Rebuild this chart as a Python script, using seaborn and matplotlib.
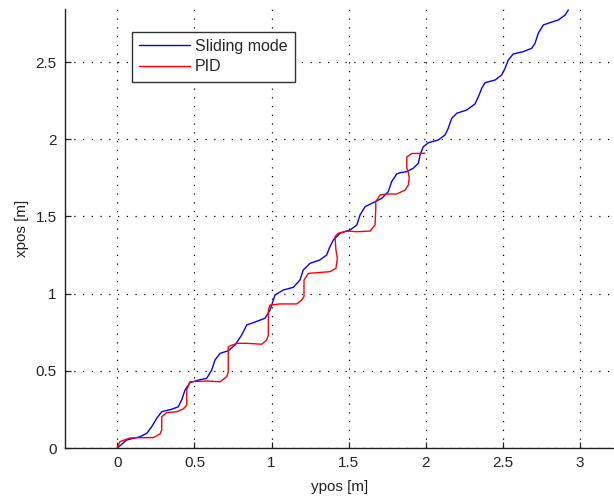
import numpy as np
import pandas as pd
import matplotlib
matplotlib.use("Agg")
import matplotlib.pyplot as plt
import seaborn as sns

# Sliding mode trajectory (ypos, xpos)
sm_ypos = [0.000, 0.061, 0.147, 0.191, 0.223, 0.255, 0.288, 0.353, 0.395, 0.417,
           0.439, 0.471, 0.525, 0.579, 0.612, 0.633, 0.666, 0.719, 0.763, 0.806,
           0.839, 0.881, 0.957, 0.990, 1.022, 1.076, 1.141, 1.184, 1.205, 1.249,
           1.313, 1.357, 1.378, 1.400, 1.444, 1.508, 1.552, 1.573, 1.606, 1.670,
           1.714, 1.756, 1.778, 1.811, 1.832, 1.876, 1.918, 1.951, 1.962, 1.983,
           2.016, 2.080, 2.124, 2.145, 2.167, 2.200, 2.264, 2.318, 2.340, 2.362,
           2.383, 2.448, 2.491, 2.513, 2.534, 2.566, 2.631, 2.686, 2.707, 2.728,
           2.761, 2.804, 2.858, 2.902, 2.923]
sm_xpos = [0.000, 0.052, 0.073, 0.095, 0.138, 0.192, 0.235, 0.251, 0.267, 0.311,
           0.376, 0.423, 0.440, 0.451, 0.505, 0.570, 0.613, 0.630, 0.667, 0.732,
           0.797, 0.812, 0.840, 0.894, 0.991, 1.023, 1.041, 1.088, 1.153, 1.196,
           1.218, 1.250, 1.304, 1.347, 1.391, 1.412, 1.444, 1.509, 1.563, 1.595,
           1.617, 1.660, 1.725, 1.775, 1.783, 1.790, 1.812, 1.844, 1.898, 1.951,
           1.977, 1.995, 2.027, 2.071, 2.135, 2.168, 2.189, 2.228, 2.275, 2.330,
           2.366, 2.383, 2.416, 2.459, 2.513, 2.552, 2.567, 2.589, 2.621, 2.686,
           2.740, 2.755, 2.772, 2.804, 2.837]

# PID trajectory (ypos, xpos)
pid_ypos = [0.000, 0.017, 0.082, 0.169, 0.233, 0.277, 0.288, 0.288, 0.320, 0.385,
            0.428, 0.450, 0.450, 0.471, 0.579, 0.666, 0.709, 0.719, 0.719, 0.774,
            0.839, 0.936, 0.968, 0.979, 0.979, 0.990, 1.054, 1.163, 1.195, 1.210,
            1.210, 1.238, 1.378, 1.417, 1.426, 1.417, 1.411, 1.432, 1.487, 1.552,
            1.638, 1.670, 1.675, 1.675, 1.703, 1.746, 1.811, 1.865, 1.886, 1.892,
            1.887, 1.876, 1.876, 1.908, 1.994]
pid_xpos = [0.000, 0.041, 0.065, 0.067, 0.067, 0.091, 0.117, 0.203, 0.229, 0.235,
            0.253, 0.278, 0.376, 0.429, 0.434, 0.429, 0.462, 0.492, 0.656, 0.678,
            0.678, 0.672, 0.699, 0.732, 0.894, 0.926, 0.933, 0.933, 0.959, 0.980,
            1.088, 1.131, 1.142, 1.164, 1.229, 1.282, 1.369, 1.391, 1.405, 1.401,
            1.405, 1.444, 1.541, 1.595, 1.639, 1.645, 1.645, 1.671, 1.703, 1.749,
            1.781, 1.813, 1.885, 1.907, 1.909]

series_names = ["Sliding mode", "PID"]
x_ticks = [0, 0.5, 1, 1.5, 2, 2.5, 3]
x_tick_labels = ["0", "0.5", "1", "1.5", "2", "2.5", "3"]
y_ticks = [0, 0.5, 1, 1.5, 2, 2.5]
y_tick_labels = ["0", "0.5", "1", "1.5", "2", "2.5"]

df = pd.concat([
    pd.DataFrame({"ypos": sm_ypos, "xpos": sm_xpos, "method": series_names[0]}),
    pd.DataFrame({"ypos": pid_ypos, "xpos": pid_xpos, "method": series_names[1]}),
], ignore_index=True)

sns.set_theme(style="ticks")
plt.rcParams["font.family"] = ["Liberation Sans", "DejaVu Sans"]

W, H = 614, 500
fig = plt.figure(figsize=(W / 100, H / 100), dpi=100)
left, right, bottom, top = 65, 616, 448, 9
ax = fig.add_axes([left / W, (H - bottom) / H, (right - left) / W, (bottom - top) / H])

sns.lineplot(data=df, x="ypos", y="xpos", hue="method", sort=False, estimator=None,
             units="method", palette={"Sliding mode": "#0000FF", "PID": "#FF0000"},
             linewidth=1.0, ax=ax, legend=True)

x0_px, unit_px_x = 117.3, 154.3
unit_px_y = 154.4
ax.set_xlim((left - x0_px) / unit_px_x, (right - x0_px) / unit_px_x)
ax.set_ylim(0, (bottom - top) / unit_px_y)

ax.set_xticks(x_ticks)
ax.set_xticklabels(x_tick_labels)
ax.set_yticks(y_ticks)
ax.set_yticklabels(y_tick_labels)

ax.grid(True, color="black", linestyle=(0, (1, 6)), linewidth=0.9)
ax.tick_params(direction="in", length=4, width=0.9, pad=6, labelsize=11,
               colors="#222222", top=False, right=False)
for s in ["top", "right"]:
    ax.spines[s].set_visible(False)
for s in ["left", "bottom"]:
    ax.spines[s].set_color("#222222")
    ax.spines[s].set_linewidth(1.0)

ax.set_xlabel("ypos [m]", fontsize=11, color="#222222")
ax.set_ylabel("xpos [m]", fontsize=11, color="#222222")
ax.xaxis.set_label_coords(((340 - left) / (right - left)), -(39 / (bottom - top)))
ax.yaxis.set_label_coords(-(43 / (right - left)), 0.5)
ax.xaxis.label.set_va("center")
ax.yaxis.label.set_va("center")

handles, labels = ax.get_legend_handles_labels()
leg = ax.legend(handles, labels, loc="upper left",
                bbox_to_anchor=(131.7 / W, 1 - 31.7 / H), bbox_transform=fig.transFigure,
                borderaxespad=0, fontsize=11.5, handlelength=3.2, handletextpad=0.3,
                labelspacing=0.35, borderpad=0.45, fancybox=False, framealpha=1,
                edgecolor="#333333")
leg.get_frame().set_linewidth(1.0)
for line in leg.get_lines():
    line.set_linewidth(1.0)

fig.savefig("out.png", dpi=100)
